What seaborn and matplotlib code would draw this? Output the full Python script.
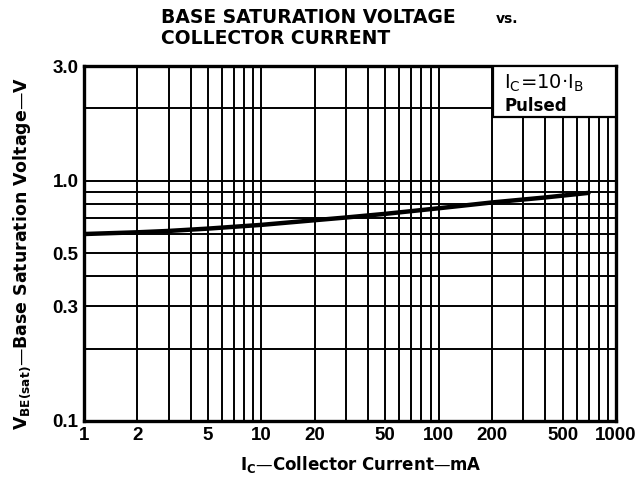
import matplotlib
matplotlib.use("Agg")
import matplotlib.pyplot as plt
import seaborn as sns
import pandas as pd
from matplotlib.patches import Rectangle

# Data
ic_ma = [1, 2, 3, 5, 10, 20, 30, 50, 100, 200, 400, 700]
vbe_sat = [0.600, 0.610, 0.618, 0.632, 0.655, 0.685, 0.703, 0.728, 0.768, 0.812, 0.852, 0.890]

x_grid = [1, 2, 3, 4, 5, 6, 7, 8, 9, 10, 20, 30, 40, 50, 60, 70, 80, 90,
          100, 200, 300, 400, 500, 600, 700, 800, 900, 1000]
x_labeled = [1, 2, 5, 10, 20, 50, 100, 200, 500, 1000]
y_grid = [0.1, 0.2, 0.3, 0.4, 0.5, 0.6, 0.7, 0.8, 0.9, 1.0, 2.0, 3.0]
y_labeled = {0.1: "0.1", 0.3: "0.3", 0.5: "0.5", 1.0: "1.0", 3.0: "3.0"}

df = pd.DataFrame({"Ic": ic_ma, "Vbe": vbe_sat})

sns.set_style("white")
plt.rcParams["font.family"] = ["DejaVu Sans"]
plt.rcParams["mathtext.fontset"] = "dejavusans"
plt.rcParams["text.color"] = "black"
plt.rcParams["xtick.color"] = "black"
plt.rcParams["ytick.color"] = "black"
plt.rcParams["axes.labelcolor"] = "black"

fig = plt.figure(figsize=(6.37, 4.97), dpi=100)
ax = fig.add_axes([0.132, 0.153, 0.835, 0.714])

sns.lineplot(data=df, x="Ic", y="Vbe", ax=ax, color="black", linewidth=3.2, zorder=5)

ax.set_xscale("log")
ax.set_yscale("log")
ax.set_xlim(1, 1000)
ax.set_ylim(0.1, 3.0)

ax.set_xticks(x_grid)
ax.set_xticklabels([str(v) if v in x_labeled else "" for v in x_grid])
ax.set_xticks([], minor=True)
ax.set_yticks(y_grid)
ax.set_yticklabels([y_labeled.get(v, "") for v in y_grid])
ax.set_yticks([], minor=True)
ax.tick_params(axis="both", length=0, labelsize=13.5, pad=4, colors="black")
for lab in ax.get_xticklabels() + ax.get_yticklabels():
    lab.set_fontweight("bold")
    lab.set_fontfamily("Liberation Sans")

ax.grid(True, which="major", color="black", linewidth=1.4)
for s in ax.spines.values():
    s.set_visible(True)
    s.set_color("black")
    s.set_linewidth(2.4)

ax.set_xlabel("")
ax.set_ylabel("")

# Condition box
box = Rectangle((0.769, 0.856), 0.231, 0.144, transform=ax.transAxes,
                facecolor="white", edgecolor="black", linewidth=1.6, zorder=6)
ax.add_patch(box)
ax.text(0.790, 0.950, r"$\mathregular{I_C}$=10·$\mathregular{I_B}$", transform=ax.transAxes,
        fontsize=14, va="center", ha="left", zorder=7)
ax.text(0.790, 0.888, "Pulsed", transform=ax.transAxes, fontsize=12, fontweight="bold",
        va="center", ha="left", zorder=7)

# Title
fig.text(0.252, 0.965, "BASE SATURATION VOLTAGE", fontsize=13.5, fontweight="bold",
         ha="left", va="center")
fig.text(0.778, 0.962, "vs.", fontsize=10, fontweight="bold", ha="left", va="center")
fig.text(0.252, 0.922, "COLLECTOR CURRENT", fontsize=13.5, fontweight="bold",
         ha="left", va="center")

# Axis labels
fig.text(0.035, 0.49, r"$\mathregular{V_{BE(sat)}}$—Base Saturation Voltage—V",
         rotation=90, fontsize=12.5, fontweight="semibold", ha="center", va="center")
fig.text(0.567, 0.065, r"$\mathregular{I_C}$—Collector Current—mA",
         fontsize=12, fontweight="semibold", ha="center", va="center")

fig.savefig("out.png", dpi=100)
